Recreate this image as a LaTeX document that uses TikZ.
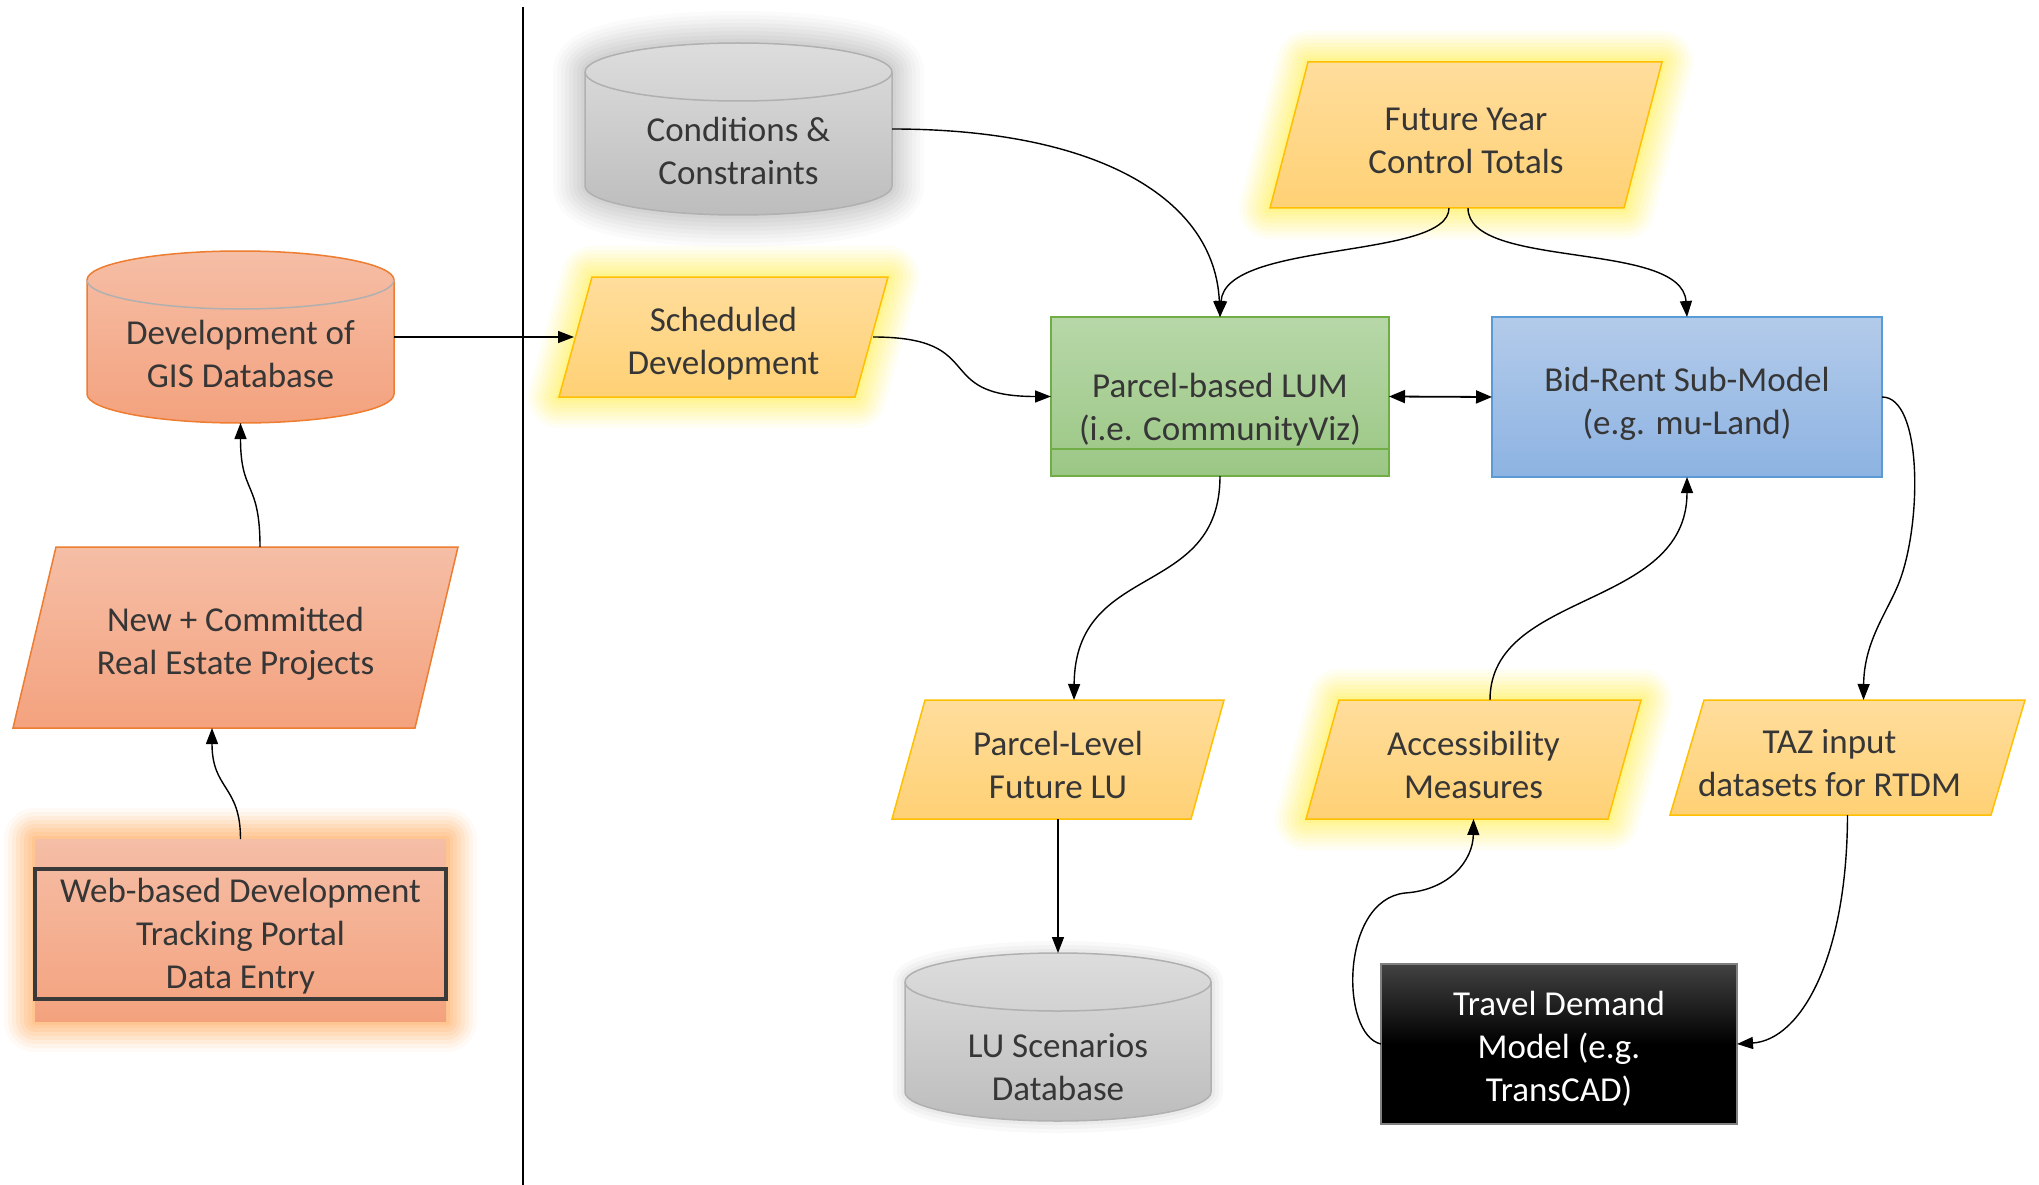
\documentclass[tikz,border=0pt]{standalone}
\usepackage{fontspec}
\setmainfont{Carlito}
\usetikzlibrary{arrows.meta,calc,backgrounds}
\definecolor{txtcol}{HTML}{363636}
\definecolor{yelT}{HTML}{FFDD9C}
\definecolor{yelB}{HTML}{FFD175}
\definecolor{yelBd}{HTML}{FFC000}
\definecolor{glowyel}{HTML}{FFF03A}
\definecolor{oraT}{HTML}{F5BEA6}
\definecolor{oraB}{HTML}{F4A27E}
\definecolor{oraBd}{HTML}{ED7D31}
\definecolor{gloworange}{HTML}{FFAE60}
\definecolor{gryT}{HTML}{DDDDDD}
\definecolor{gryB}{HTML}{BDBDBD}
\definecolor{gryBd}{HTML}{B0B0B0}
\definecolor{glowgray}{HTML}{A8A8A8}
\definecolor{grnT}{HTML}{B7D7A8}
\definecolor{grnB}{HTML}{9BC785}
\definecolor{grnBd}{HTML}{70AD47}
\definecolor{bluT}{HTML}{B3CBEA}
\definecolor{bluB}{HTML}{8DB3E2}
\definecolor{bluBd}{HTML}{5B9BD5}
\definecolor{tdT}{HTML}{424242}
\definecolor{framecol}{HTML}{3A3A3A}
\newcommand\drawpara[3]{\path[#3] ([xshift=#2pt]#1.north west) -- (#1.north east) -- ([xshift=-#2pt]#1.south east) -- (#1.south west) -- cycle;}
\newcommand\drawcyl[6]{%
  \path[#6] ({#1-#4},{#2+#5}) .. controls ({#1-#4},{#2+#5-0.5523*#5}) and ({#1-0.5523*#4},{#2}) .. (#1,#2)
    .. controls ({#1+0.5523*#4},{#2}) and ({#1+#4},{#2+#5-0.5523*#5}) .. ({#1+#4},{#2+#5})
    -- ({#1+#4},{#3-#5}) .. controls ({#1+#4},{#3-#5+0.5523*#5}) and ({#1+0.5523*#4},#3) .. (#1,#3)
    .. controls ({#1-0.5523*#4},#3) and ({#1-#4},{#3-#5+0.5523*#5}) .. ({#1-#4},{#3-#5}) -- cycle;
  \path[draw=gryBd, line width=1.5pt] ({#1-#4},{#2+#5}) .. controls ({#1-#4},{#2+#5+0.5523*#5}) and ({#1-0.5523*#4},{#2+2*#5}) .. (#1,{#2+2*#5})
    .. controls ({#1+0.5523*#4},{#2+2*#5}) and ({#1+#4},{#2+#5+0.5523*#5}) .. ({#1+#4},{#2+#5});}
\begin{document}
\begin{tikzpicture}[x=1pt,y=-1pt,
  bx/.style 2 args={shape=rectangle, minimum width=#1pt, minimum height=#2pt, inner sep=0pt, outer sep=0pt, draw=none},
  txt/.style={font=\fontsize{35}{43}\selectfont, text=txtcol, align=center, inner sep=0pt},
  yel/.style={top color=yelT, bottom color=yelB, draw=yelBd, line width=1.5pt},
  ora/.style={top color=oraT, bottom color=oraB, draw=oraBd, line width=1.5pt},
  gry/.style={top color=gryT, bottom color=gryB, draw=gryBd, line width=1.5pt},
  gl/.style n args={3}{preaction={draw=#1, line width=#2pt, draw opacity=#3, line join=round}},
  glowY/.style={gl={glowyel}{62}{0.06},gl={glowyel}{54}{0.07},gl={glowyel}{46}{0.08},gl={glowyel}{38}{0.09},
                gl={glowyel}{30}{0.10},gl={glowyel}{22}{0.11},gl={glowyel}{14}{0.12},gl={glowyel}{7}{0.14}},
  glowO/.style={gl={gloworange}{62}{0.06},gl={gloworange}{54}{0.08},gl={gloworange}{46}{0.10},gl={gloworange}{38}{0.12},
                gl={gloworange}{30}{0.14},gl={gloworange}{22}{0.16},gl={gloworange}{14}{0.18},gl={gloworange}{7}{0.2}},
  glowG/.style={gl={glowgray}{64}{0.04},gl={glowgray}{56}{0.05},gl={glowgray}{48}{0.06},gl={glowgray}{40}{0.07},
                gl={glowgray}{32}{0.08},gl={glowgray}{24}{0.09},gl={glowgray}{16}{0.10},gl={glowgray}{8}{0.11}},
  glowGs/.style={gl={glowgray}{24}{0.06},gl={glowgray}{16}{0.08},gl={glowgray}{8}{0.1}},
  conn/.style={line width=1.4pt, draw=black, -{Triangle[length=16pt,width=12pt]}},
  conn2/.style={line width=1.8pt, draw=black, {Triangle[length=16pt,width=13pt]}-{Triangle[length=16pt,width=13pt]}}
]
\useasboundingbox (0,0) rectangle (2039,1185);

% ---- shape nodes ----
\node[bx={307}{172}] (cond) at (738.5,129) {};
\node[bx={392}{146}] (fy) at (1466,135) {};
\node[bx={307}{172}] (gis) at (240.5,337) {};
\node[bx={329}{120}] (sched) at (723.5,337) {};
\node[bx={338}{159}] (lum) at (1220,396.5) {};
\node[bx={390}{160}] (br) at (1687,397) {};
\node[bx={445}{181}] (nc) at (235.5,637.5) {};
\node[bx={411}{182}] (web) at (240.5,930) {};
\node[bx={332}{119}] (pl) at (1058,759.5) {};
\node[bx={335}{119}] (acc) at (1473.5,759.5) {};
\node[bx={355}{115}] (taz) at (1847.5,757.5) {};
\node[bx={306}{168}] (lu) at (1058,1037) {};
\node[bx={356}{160}] (td) at (1559,1044) {};

% ---- text nodes ----
\node[txt] (condt) at (738.5,151) {Conditions \&\\Constraints};
\node[txt] (fyt) at ([yshift=-6pt]fy.center) {Future Year\\Control Totals};
\node[txt] (gist) at (240.5,354) {Development of\\GIS Database};
\node[txt] (schedt) at ([yshift=-7pt]sched.center) {Scheduled\\Development};
\node[txt] (lumt) at (1220,410) {Parcel-based LUM\\(i.e. CommunityViz)};
\node[txt] (brt) at ([yshift=-7pt]br.center) {Bid-Rent Sub-Model\\(e.g. mu-Land)};
\node[txt] (nct) at ([yshift=-6pt]nc.center) {New + Committed\\Real Estate Projects};
\node[txt] (webt) at ([yshift=-6pt]web.center) {Web-based Development\\Tracking Portal\\Data Entry};
\node[txt] (plt) at ([yshift=-5pt]pl.center) {Parcel-Level\\Future LU};
\node[txt] (acct) at ([yshift=-5pt]acc.center) {Accessibility\\Measures};
\node[txt] (tazt) at ([xshift=-18pt,yshift=-6pt]taz.center) {TAZ input\\datasets for RTDM};
\node[txt] (lut) at (1058,1067) {LU Scenarios\\Database};
\node[txt, text=white] (tdt) at ([yshift=-5pt]td.center) {Travel Demand\\Model (e.g.\\TransCAD)};

% ---- shapes ----
\begin{pgfonlayer}{background}
  \fill[white] (0,0) rectangle (2039,1185);
  \drawcyl{738.5}{43}{215}{153.5}{29}{gry, glowG}
  \drawcyl{240.5}{251}{423}{153.5}{29}{ora}
  \drawcyl{1058}{953}{1121}{153}{29}{gry, glowGs}
  \drawpara{fy}{38}{yel, glowY}
  \drawpara{sched}{33}{yel, glowY}
  \drawpara{acc}{33}{yel, glowY}
  \drawpara{pl}{33}{yel}
  \drawpara{taz}{34}{yel}
  \drawpara{nc}{43}{ora}
  \path[glowO, top color=oraT, bottom color=oraB] (web.north west) rectangle (web.south east);
  \draw[line width=3.2pt, draw=framecol] ($(web.north west)+(0,30)$) rectangle ($(web.south east)+(0,-22)$);
  \path[top color=grnT, bottom color=grnB, draw=grnBd, line width=1.3pt] (lum.north west) rectangle (lum.south east);
  \draw[grnBd, line width=1.3pt] ($(lum.south west)+(0,-27)$) -- ($(lum.south east)+(0,-27)$);
  \path[top color=bluT, bottom color=bluB, draw=bluBd, line width=1.3pt] (br.north west) rectangle (br.south east);
  \path[top color=tdT, bottom color=black, middle color=black, draw=gray, line width=1.3pt] (td.north west) rectangle (td.south east);
\end{pgfonlayer}

% ---- divider ----
\coordinate (divtop) at (523,7);
\coordinate (divbot) at (523,1185);
\draw[line width=2pt] (divtop) -- (divbot);

% ---- connectors ----
\draw[conn] (gis.east) -- ([xshift=15pt]sched.west);
\draw[conn] ([xshift=24.5pt]nc.north) .. controls (260,480) and (240.5,495) .. (gis.south);
\draw[conn] (web.north) .. controls (240.5,785) and (212,790) .. ([xshift=-23.5pt]nc.south);
\draw[conn] (cond.east) .. controls (1100,129) and (1215,200) .. (lum.north);
\draw[conn] ([xshift=-17pt]fy.south) .. controls (1449,260) and (1225,240) .. (lum.north);
\draw[conn] ([xshift=2pt]fy.south) .. controls (1468,270) and (1682,240) .. (br.north);
\draw[conn] ([xshift=-15pt]sched.east) .. controls (990,337) and (930,396.5) .. (lum.west);
\draw[conn2] (lum.east) -- (br.west);
\draw[conn] (lum.south) .. controls (1220,600) and (1075,560) .. ([xshift=16pt]pl.north);
\draw[conn] ([xshift=16.5pt]acc.north) .. controls (1490,590) and (1687,610) .. (br.south);
\draw[conn] (br.east) .. controls (1922,397) and (1922,520) .. (1900,580) .. controls (1889,610) and (1864,640) .. ([xshift=16pt]taz.north);
\draw[conn] (pl.south) -- (lu.north);
\draw[conn] (taz.south) .. controls (1847,960) and (1800,1040) .. (td.east);
\draw[conn] (td.west) .. controls (1340,1035) and (1340,900) .. (1405,893) .. controls (1450,890) and (1473,860) .. (acc.south);
\end{tikzpicture}
\end{document}
